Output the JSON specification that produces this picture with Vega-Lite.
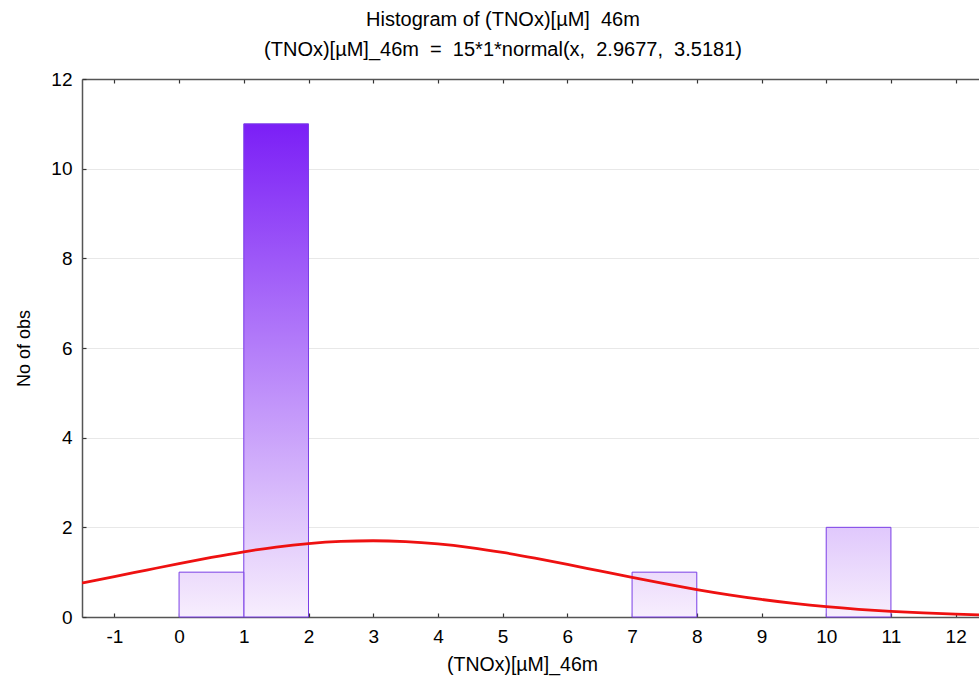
{
  "$schema": "https://vega.github.io/schema/vega-lite/v6.json",
  "autosize": "none",
  "width": 906,
  "height": 538,
  "padding": {"left": 82, "top": 79, "right": 0, "bottom": 65},
  "background": "#ffffff",
  "config": {
    "font": "Liberation Sans",
    "view": {"stroke": null},
    "axis": {
      "labelFont": "Liberation Sans",
      "titleFont": "Liberation Sans",
      "labelFontSize": 19,
      "titleFontSize": 18,
      "titleFontWeight": "normal",
      "labelColor": "#000000",
      "titleColor": "#000000",
      "domainColor": "#555555",
      "domainWidth": 1.5,
      "tickColor": "#333333",
      "tickSize": -4,
      "tickWidth": 1.2,
      "gridColor": "#e8e8e8",
      "gridWidth": 1
    }
  },
  "title": {
    "text": ["Histogram of (TNOx)[\u00b5M]\u00a0 46m", "(TNOx)[\u00b5M]_46m\u00a0 = \u00a015*1*normal(x,\u00a0 2.9677,\u00a0 3.5181)"],
    "font": "Liberation Sans",
    "fontSize": 20,
    "fontWeight": "normal",
    "color": "#000000",
    "anchor": "middle",
    "frame": "group",
    "dx": -32,
    "lineHeight": 30,
    "offset": 10
  },
  "datasets": {
    "bins": [
      {"start": 0, "end": 1, "count": 1},
      {"start": 1, "end": 2, "count": 11},
      {"start": 7, "end": 8, "count": 1},
      {"start": 10, "end": 11, "count": 2}
    ],
    "curve": [
      {"x": -1.5, "y": 0.7595}, {"x": -1, "y": 0.9005}, {"x": -0.5, "y": 1.0465},
      {"x": 0, "y": 1.1917}, {"x": 0.5, "y": 1.33}, {"x": 1, "y": 1.4547},
      {"x": 1.5, "y": 1.5593}, {"x": 2, "y": 1.6379}, {"x": 2.5, "y": 1.686},
      {"x": 3, "y": 1.7009}, {"x": 3.5, "y": 1.6816}, {"x": 4, "y": 1.6294},
      {"x": 4.5, "y": 1.5471}, {"x": 5, "y": 1.4396}, {"x": 5.5, "y": 1.3128},
      {"x": 6, "y": 1.1733}, {"x": 6.5, "y": 1.0276}, {"x": 7, "y": 0.882},
      {"x": 7.5, "y": 0.7418}, {"x": 8, "y": 0.6115}, {"x": 8.5, "y": 0.494},
      {"x": 9, "y": 0.3911}, {"x": 9.5, "y": 0.3035}, {"x": 10, "y": 0.2306},
      {"x": 10.5, "y": 0.1719}, {"x": 11, "y": 0.1255}, {"x": 11.5, "y": 0.0898},
      {"x": 12, "y": 0.063}, {"x": 12.5, "y": 0.0433}
    ]
  },
  "resolve": {"axis": {"x": "independent"}},
  "layer": [
    {
      "data": {"name": "bins"},
      "transform": [{"filter": "datum.count == 11"}],
      "mark": {
        "type": "bar",
        "stroke": "#7a3ee6",
        "strokeWidth": 1,
        "color": {"gradient": "linear", "x1": 0, "y1": 0, "x2": 0, "y2": 1,
          "stops": [{"offset": 0, "color": "#7b1ff6"}, {"offset": 1, "color": "#f7eefd"}]}
      },
      "encoding": {
        "x": {"field": "start", "type": "quantitative",
          "scale": {"domain": [-1.5, 12.5], "nice": false, "zero": false},
          "axis": {"orient": "bottom", "values": [-1, 0, 1, 2, 3, 4, 5, 6, 7, 8, 9, 10, 11, 12],
            "labelExpr": "replace(datum.label, '\u2212', '-')",
            "grid": false, "labelPadding": 14, "title": "(TNOx)[\u00b5M]_46m",
            "titleFontSize": 19.5, "titleX": 440, "titleY": 38, "titleAnchor": null}},
        "x2": {"field": "end"},
        "y": {"field": "count", "type": "quantitative",
          "scale": {"domain": [0, 12], "nice": false},
          "axis": {"values": [0, 2, 4, 6, 8, 10, 12], "grid": true, "title": "No of obs",
            "labelPadding": 14, "titlePadding": 17}},
        "y2": {"datum": 0}
      }
    },
    {
      "data": {"name": "bins"},
      "transform": [{"filter": "datum.count == 1"}],
      "mark": {
        "type": "bar",
        "stroke": "#7a3ee6",
        "strokeWidth": 1,
        "color": {"gradient": "linear", "x1": 0, "y1": 0, "x2": 0, "y2": 1,
          "stops": [{"offset": 0, "color": "#ecdbfc"}, {"offset": 1, "color": "#f7eefd"}]}
      },
      "encoding": {
        "x": {"field": "start", "type": "quantitative", "axis": null},
        "x2": {"field": "end"},
        "y": {"field": "count", "type": "quantitative"},
        "y2": {"datum": 0}
      }
    },
    {
      "data": {"name": "bins"},
      "transform": [{"filter": "datum.count == 2"}],
      "mark": {
        "type": "bar",
        "stroke": "#7a3ee6",
        "strokeWidth": 1,
        "color": {"gradient": "linear", "x1": 0, "y1": 0, "x2": 0, "y2": 1,
          "stops": [{"offset": 0, "color": "#e0c8fc"}, {"offset": 1, "color": "#f7eefd"}]}
      },
      "encoding": {
        "x": {"field": "start", "type": "quantitative", "axis": null},
        "x2": {"field": "end"},
        "y": {"field": "count", "type": "quantitative"},
        "y2": {"datum": 0}
      }
    },
    {
      "data": {"name": "curve"},
      "mark": {"type": "line", "color": "#ee1111", "strokeWidth": 2.8, "interpolate": "monotone", "clip": true},
      "encoding": {
        "x": {"field": "x", "type": "quantitative",
          "axis": {"orient": "top", "values": [-1, 0, 1, 2, 3, 4, 5, 6, 7, 8, 9, 10, 11, 12],
            "labels": false, "grid": false, "title": null}},
        "y": {"field": "y", "type": "quantitative"}
      }
    }
  ]
}
